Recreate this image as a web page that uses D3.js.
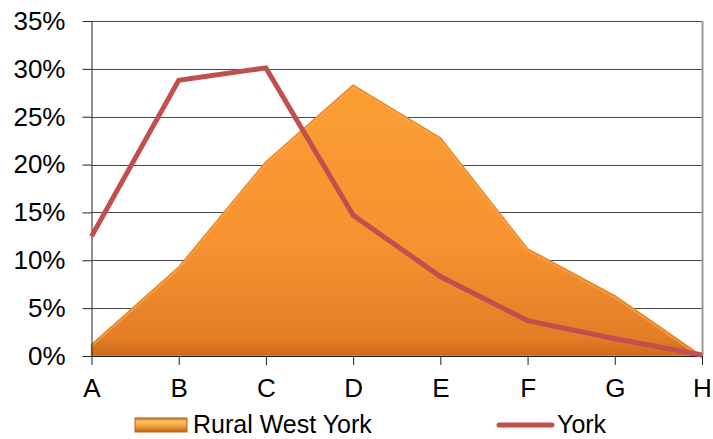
<!DOCTYPE html>
<html><head><meta charset="utf-8">
<script src="https://cdn.jsdelivr.net/npm/d3@7"></script>
<style>body{margin:0;background:#fff}svg{display:block}text{font-family:"Liberation Sans",Arial,sans-serif}</style>
</head><body><svg id="c" width="713" height="439"></svg>
<script>
const categories = ["A","B","C","D","E","F","G","H"];
const ruralWestYork = [0.012,0.093,0.203,0.283,0.228,0.112,0.063,0.0];
const york = [0.125,0.288,0.301,0.147,0.083,0.037,0.018,0.001];
const yTicks = [0,0.05,0.10,0.15,0.20,0.25,0.30,0.35];
const seriesNames = ["Rural West York","York"];

const svg = d3.select("#c");
const L = 91.5, R = 702, T = 21, B = 356;
const x = d3.scalePoint().domain(categories).range([L, R]);
const y = d3.scaleLinear().domain([0,0.35]).range([B, T]);

const defs = svg.append("defs");
const g1 = defs.append("linearGradient").attr("id","ag")
  .attr("gradientUnits","userSpaceOnUse").attr("x1",0).attr("y1",T+60).attr("x2",0).attr("y2",B);
g1.append("stop").attr("offset","0%").attr("stop-color","#fc9e34");
g1.append("stop").attr("offset","60%").attr("stop-color","#f69230");
g1.append("stop").attr("offset","93%").attr("stop-color","#e47e27");
g1.append("stop").attr("offset","100%").attr("stop-color","#cc6b1e");
const g2 = defs.append("linearGradient").attr("id","lg").attr("x1",0).attr("y1",0).attr("x2",0).attr("y2",1);
g2.append("stop").attr("offset","0%").attr("stop-color","#c86b1e");
g2.append("stop").attr("offset","25%").attr("stop-color","#fbc865");
g2.append("stop").attr("offset","55%").attr("stop-color","#f7a238");
g2.append("stop").attr("offset","100%").attr("stop-color","#c0641b");

// gridlines
svg.append("g").selectAll("line").data(yTicks.filter(d=>d>0)).join("line")
  .attr("x1",L).attr("x2",R).attr("y1",d=>Math.round(y(d))+0.5).attr("y2",d=>Math.round(y(d))+0.5)
  .attr("stroke","#4a4a4a").attr("stroke-width",1);

// area
const area = d3.area().x((d,i)=>x(categories[i])).y0(B).y1(d=>y(d));
svg.append("path").datum(ruralWestYork).attr("d",area).attr("fill","url(#ag)")
  .attr("stroke","#e8872b").attr("stroke-width",1.5).attr("stroke-linejoin","round");
const line = d3.line().x((d,i)=>x(categories[i])).y(d=>y(d));
svg.append("path").datum(ruralWestYork).attr("d",line).attr("fill","none")
  .attr("stroke","#fbae55").attr("stroke-width",1.2).attr("transform","translate(0,2)").attr("opacity",0.7);

// right border
svg.append("line").attr("x1",R+0.5).attr("x2",R+0.5).attr("y1",T).attr("y2",B).attr("stroke","#9a9a9a").attr("stroke-width",2);

// axes
const yAxis = d3.axisLeft(y).tickValues(yTicks).tickFormat(d=>Math.round(d*100)+"%").tickSize(9).tickPadding(17);
const ya = svg.append("g").attr("transform",`translate(${L},0)`).call(yAxis);
ya.select(".domain").attr("stroke","#222").attr("d",`M0.5,${T}V${B}`);
ya.selectAll(".tick line").attr("stroke","#222");
ya.selectAll("text").attr("font-size",26).attr("fill","#000").style("font-family","Liberation Sans, Arial, sans-serif");

const xAxis = d3.axisBottom(x).tickSize(9).tickPadding(14);
const xa = svg.append("g").attr("transform",`translate(0,${B})`).call(xAxis);
xa.select(".domain").attr("stroke","#222").attr("d",`M${L},0.5H${R}`);
xa.selectAll(".tick line").attr("stroke","#222");
xa.selectAll("text").attr("font-size",26).attr("fill","#000").style("font-family","Liberation Sans, Arial, sans-serif");

// York line
svg.append("path").datum(york).attr("d",line).attr("fill","none")
  .attr("stroke","#c0504d").attr("stroke-width",5).attr("stroke-linejoin","miter");

// legend
const lg = svg.append("g");
lg.append("rect").attr("x",135).attr("y",418).attr("width",52).attr("height",14).attr("fill","url(#lg)").attr("stroke","#b8601a").attr("stroke-width",1);
lg.append("text").attr("x",193).attr("y",433).attr("font-size",25).text(seriesNames[0]);
lg.append("line").attr("x1",499).attr("x2",552).attr("y1",425).attr("y2",425).attr("stroke","#c0504d").attr("stroke-width",5).attr("stroke-linecap","round");
lg.append("text").attr("x",557).attr("y",433).attr("font-size",25).text(seriesNames[1]);
</script></body></html>
